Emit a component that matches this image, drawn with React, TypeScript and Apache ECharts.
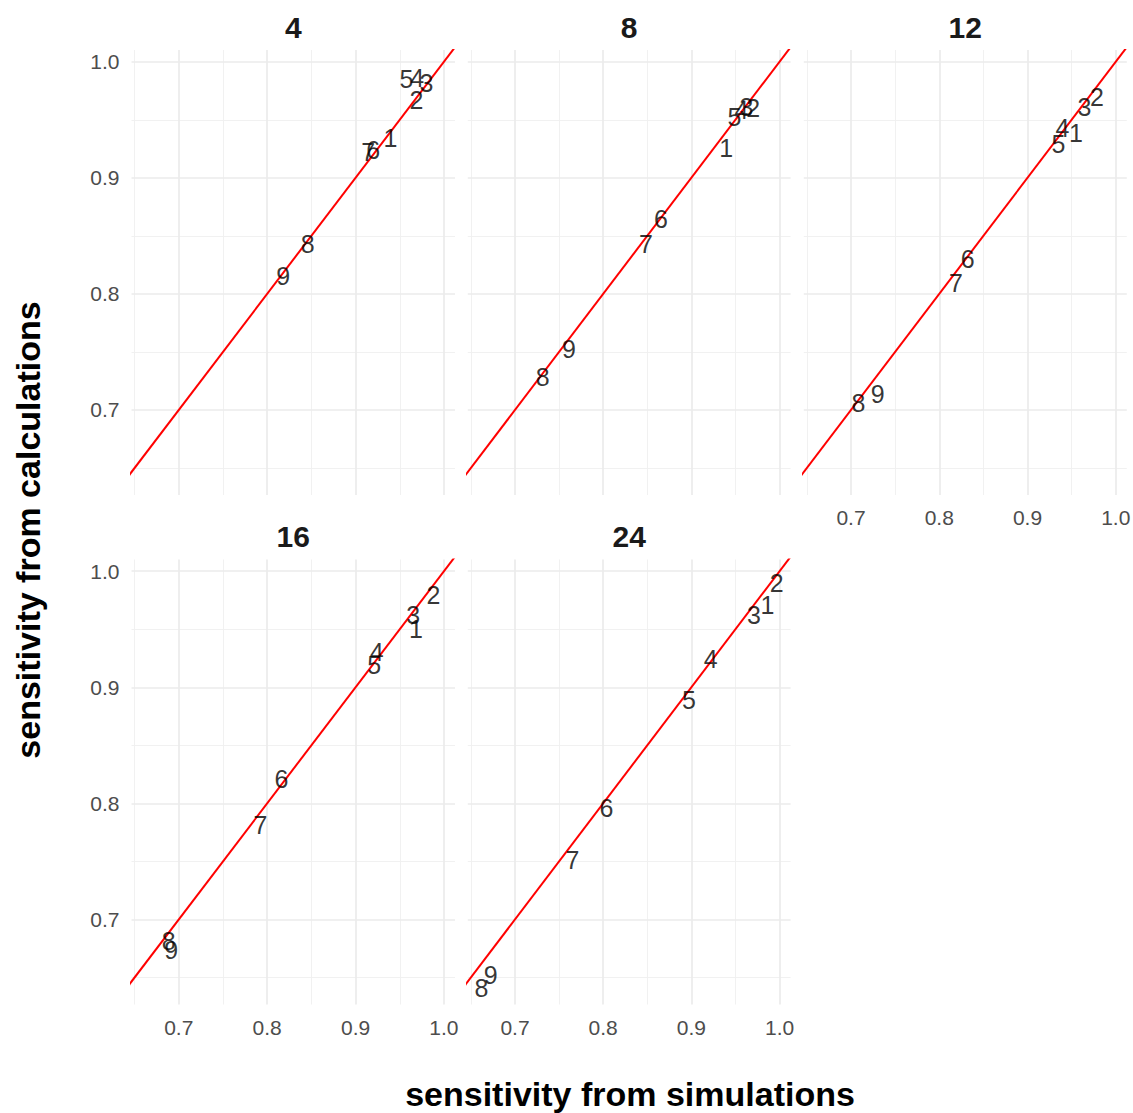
import React, { useEffect, useRef } from "react";
import * as echarts from "echarts";

const pointLabels = ["1", "2", "3", "4", "5", "6", "7", "8", "9"];
const panelTitles = ["4", "8", "12", "16", "24"];

const sim4 = [0.9395, 0.9689, 0.9802, 0.9696, 0.9576, 0.9199, 0.9142, 0.8458, 0.8182];
const calc4 = [0.934, 0.967, 0.9814, 0.9857, 0.985, 0.9239, 0.9224, 0.8426, 0.8153];
const sim8 = [0.9396, 0.97, 0.9625, 0.9569, 0.9487, 0.8655, 0.8485, 0.7314, 0.7612];
const calc8 = [0.9253, 0.9598, 0.9612, 0.9584, 0.9526, 0.8641, 0.8426, 0.7284, 0.7529];
const sim12 = [0.9548, 0.9786, 0.9645, 0.9396, 0.9351, 0.8323, 0.819, 0.7083, 0.7302];
const calc12 = [0.9388, 0.9698, 0.9612, 0.9426, 0.929, 0.8297, 0.809, 0.706, 0.7141];
const sim16 = [0.9684, 0.988, 0.9653, 0.9238, 0.9211, 0.8161, 0.7923, 0.6887, 0.6914];
const calc16 = [0.9498, 0.9793, 0.9621, 0.9305, 0.9191, 0.8207, 0.7814, 0.6818, 0.6738];
const sim24 = [0.9862, 0.9967, 0.971, 0.9219, 0.8973, 0.8036, 0.7651, 0.6619, 0.6724];
const calc24 = [0.9705, 0.9897, 0.9619, 0.9246, 0.8887, 0.7964, 0.751, 0.6411, 0.652];

const simSets = [sim4, sim8, sim12, sim16, sim24];
const calcSets = [calc4, calc8, calc12, calc16, calc24];

const majorTicks = [0.7, 0.8, 0.9, 1.0];
const minorTicks = [0.65, 0.75, 0.85, 0.95];
const abline = [0.6, 1.05];

const X_MIN = 0.6465;
const X_MAX = 1.0125;
const Y_MIN = 0.6267;
const Y_MAX = 1.0101;

const FONT = "'Liberation Sans', Arial, Helvetica, sans-serif";

const gridRects = [
  { left: 131.5, top: 50, width: 323.5, height: 445 },
  { left: 467.8, top: 50, width: 322.8, height: 445 },
  { left: 803.8, top: 50, width: 323, height: 445 },
  { left: 131.5, top: 559.5, width: 323.5, height: 445 },
  { left: 467.8, top: 559.5, width: 322.8, height: 445 },
];
const showXLabels = [false, false, true, true, true];
const showYLabels = [true, false, false, true, false];

export default function App() {
  const ref = useRef<HTMLDivElement>(null);
  useEffect(() => {
    if (!ref.current) return;
    const chart = echarts.init(ref.current, undefined, { renderer: "svg" });

    const grids = gridRects.map((g) => ({ ...g, outerBoundsMode: "none", containLabel: false }));
    const xAxes = gridRects.map((_, i) => ({
      type: "value",
      gridIndex: i,
      min: X_MIN,
      max: X_MAX,
      axisLine: { show: false },
      axisTick: { show: false, customValues: majorTicks },
      splitLine: { show: false },
      axisLabel: {
        show: showXLabels[i],
        customValues: majorTicks,
        formatter: (v: number) => v.toFixed(1),
        color: "#4d4d4d",
        fontSize: 21,
        fontFamily: FONT,
        margin: 12,
      },
    }));
    const yAxes = gridRects.map((_, i) => ({
      type: "value",
      gridIndex: i,
      min: Y_MIN,
      max: Y_MAX,
      axisLine: { show: false },
      axisTick: { show: false, customValues: majorTicks },
      splitLine: { show: false },
      axisLabel: {
        show: showYLabels[i],
        customValues: majorTicks,
        formatter: (v: number) => v.toFixed(1),
        color: "#4d4d4d",
        fontSize: 21,
        fontFamily: FONT,
        margin: 12,
      },
    }));

    const series: any[] = [];
    gridRects.forEach((_, i) => {
      const gridLines = [
        ...minorTicks.map((v) => ({ xAxis: v, lineStyle: { width: 0.9, color: "#efefef" } })),
        ...minorTicks.map((v) => ({ yAxis: v, lineStyle: { width: 0.9, color: "#efefef" } })),
        ...majorTicks.map((v) => ({ xAxis: v, lineStyle: { width: 1.7, color: "#ebebeb" } })),
        ...majorTicks.map((v) => ({ yAxis: v, lineStyle: { width: 1.7, color: "#ebebeb" } })),
      ];
      series.push({
        type: "line",
        xAxisIndex: i,
        yAxisIndex: i,
        data: abline.map((v) => [v, v]),
        showSymbol: false,
        symbol: "none",
        clip: true,
        z: 3,
        lineStyle: { color: "#ff0000", width: 2 },
        silent: true,
        markLine: {
          z: 1,
          silent: true,
          symbol: ["none", "none"],
          label: { show: false },
          lineStyle: { type: "solid" },
          data: gridLines,
        },
      });
      series.push({
        type: "scatter",
        xAxisIndex: i,
        yAxisIndex: i,
        z: 10,
        symbolSize: 1,
        itemStyle: { color: "transparent" },
        data: simSets[i].map((x, k) => [x, calcSets[i][k], pointLabels[k]]),
        label: {
          show: true,
          position: "inside",
          formatter: (p: any) => p.data[2],
          color: "#000000",
          fontSize: 25,
          fontFamily: FONT,
        },
      });
    });

    const graphics: any[] = gridRects.map((g, i) => ({
      type: "text",
      x: g.left + g.width / 2,
      y: g.top - 23,
      style: {
        text: panelTitles[i],
        fontSize: 30,
        fontWeight: "bold",
        fontFamily: FONT,
        fill: "#1a1a1a",
        align: "center",
        verticalAlign: "middle",
      },
    }));
    graphics.push({
      type: "text",
      x: 630,
      y: 1094,
      style: {
        text: "sensitivity from simulations",
        fontSize: 34,
        fontWeight: "bold",
        fontFamily: FONT,
        fill: "#000000",
        align: "center",
        verticalAlign: "middle",
      },
    });
    graphics.push({
      type: "text",
      x: 28,
      y: 530,
      rotation: Math.PI / 2,
      style: {
        text: "sensitivity from calculations",
        fontSize: 34,
        fontWeight: "bold",
        fontFamily: FONT,
        fill: "#000000",
        align: "center",
        verticalAlign: "middle",
      },
    });

    chart.setOption({
      animation: false,
      backgroundColor: "#ffffff",
      grid: grids,
      xAxis: xAxes,
      yAxis: yAxes,
      series,
      graphic: graphics,
    });
    return () => chart.dispose();
  }, []);
  return (
    <div
      ref={ref}
      style={{ position: "absolute", left: 0, top: 0, width: 1133, height: 1113 }}
    />
  );
}
